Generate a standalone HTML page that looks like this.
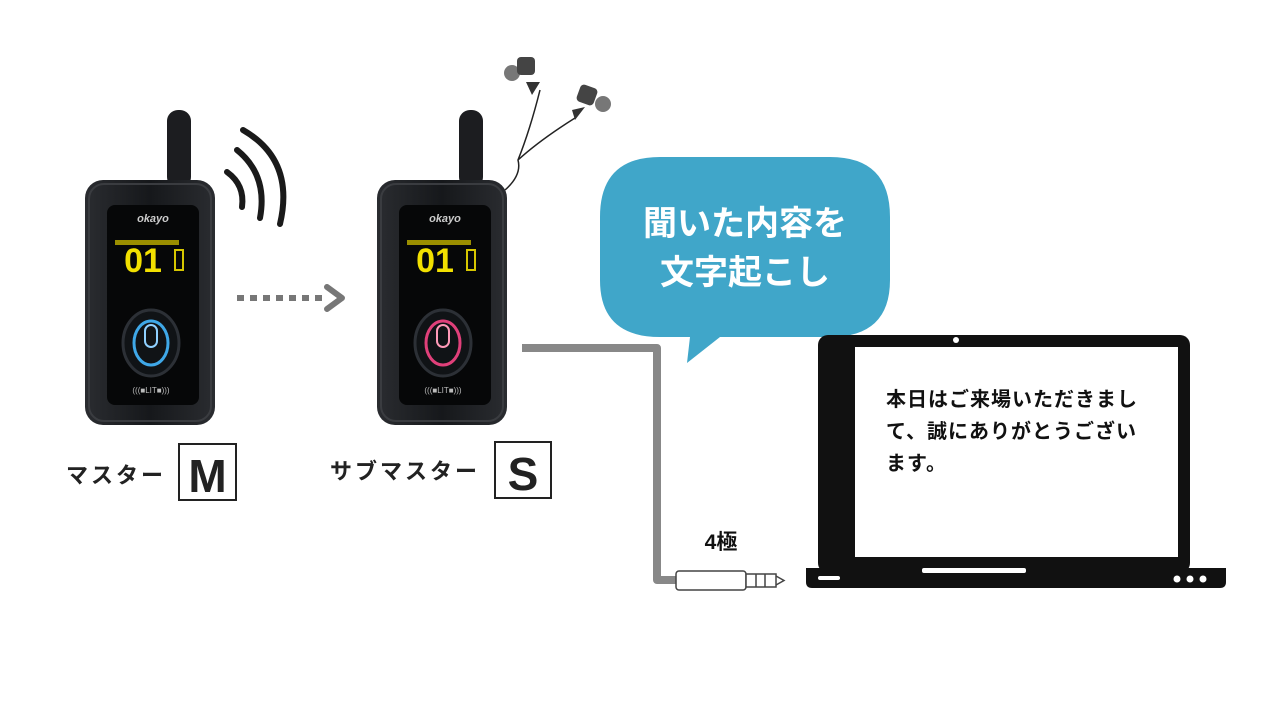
<!DOCTYPE html>
<html><head><meta charset="utf-8"><style>
html,body{margin:0;padding:0;background:#fff;width:1280px;height:720px;overflow:hidden}
svg{display:block}
</style></head><body>
<svg width="1280" height="720" viewBox="0 0 1280 720" xmlns="http://www.w3.org/2000/svg" font-family="'Liberation Sans','Noto Sans CJK JP',sans-serif">
<defs>
<linearGradient id="bg" x1="0" x2="1"><stop offset="0" stop-color="#2a2c30"/><stop offset="0.5" stop-color="#16181b"/><stop offset="1" stop-color="#2a2c30"/></linearGradient>
<g id="dev">
  <rect x="82" y="110" width="24" height="78" rx="11" fill="#1c1d20"/>
  <rect x="0" y="180" width="130" height="245" rx="18" fill="url(#bg)"/>
  <rect x="4" y="184" width="122" height="237" rx="15" fill="none" stroke="#3a3c40" stroke-width="2"/>
  <rect x="22" y="205" width="92" height="200" rx="8" fill="#060708"/>
  <text x="68" y="222" font-size="11" font-style="italic" fill="#ccc" text-anchor="middle" font-weight="bold">okayo</text>
  <text x="58" y="272" font-size="34" font-weight="bold" fill="#f2e000" text-anchor="middle">01</text>
  <rect x="90" y="250" width="8" height="20" fill="none" stroke="#d6c600" stroke-width="2"/>
  <rect x="30" y="240" width="64" height="5" fill="#9a8e00"/>
  <ellipse cx="66" cy="343" rx="28" ry="33" fill="#101316" stroke="#2c3036" stroke-width="3"/>
  <text x="66" y="393" font-size="8" fill="#bbb" text-anchor="middle">(((■LIT■)))</text>
</g>
</defs>
<use href="#dev" transform="translate(85,0)"/>
<ellipse cx="151" cy="343" rx="17" ry="22" fill="none" stroke="#3fa8e8" stroke-width="3"/>
<rect x="145" y="325" width="12" height="22" rx="6" fill="none" stroke="#8fd0ff" stroke-width="2"/>
<use href="#dev" transform="translate(377,0)"/>
<ellipse cx="443" cy="343" rx="17" ry="22" fill="none" stroke="#e0407a" stroke-width="3"/>
<rect x="437" y="325" width="12" height="22" rx="6" fill="none" stroke="#ff9ab8" stroke-width="2"/>
<g fill="none" stroke="#1a1a1a" stroke-width="6" stroke-linecap="round">
<path d="M227 172 Q245 185 242 207"/>
<path d="M237 150 Q268 175 260 218"/>
<path d="M243 130 Q295 160 280 224"/>
</g>
<g fill="#777"><rect x="237" y="295" width="7" height="6"/><rect x="250" y="295" width="7" height="6"/><rect x="263" y="295" width="7" height="6"/><rect x="276" y="295" width="7" height="6"/><rect x="289" y="295" width="7" height="6"/><rect x="302" y="295" width="7" height="6"/><rect x="315" y="295" width="7" height="6"/></g>
<path d="M327 287 L342 298 L327 309" fill="none" stroke="#777" stroke-width="6" stroke-linecap="round" stroke-linejoin="round"/>
<path d="M505 190 Q522 175 518 160 Q530 130 540 90 M518 160 Q540 140 575 118" fill="none" stroke="#222" stroke-width="1.5"/>
<circle cx="512" cy="73" r="8" fill="#777"/><rect x="517" y="57" width="18" height="18" rx="4" fill="#444"/><path d="M526 82 L540 82 L532 95Z" fill="#333"/>
<circle cx="603" cy="104" r="8" fill="#777"/><rect x="578" y="86" width="18" height="18" rx="4" fill="#444" transform="rotate(20 587 95)"/><path d="M572 110 L585 107 L575 120Z" fill="#333"/>
<path d="M660 157 H830 Q890 157 890 217 V280 Q890 337 830 337 H720 L687 363 L690 337 H660 Q600 337 600 280 V217 Q600 157 660 157Z" fill="#40a6c9"/>
<text x="745" y="235" font-size="34" font-weight="bold" fill="#fff" text-anchor="middle">聞いた内容を</text>
<text x="745" y="284" font-size="34" font-weight="bold" fill="#fff" text-anchor="middle">文字起こし</text>
<path d="M522 348 H657 V580 H680" fill="none" stroke="#888" stroke-width="8" stroke-linejoin="round"/>
<rect x="676" y="571" width="70" height="19" rx="3" fill="#fff" stroke="#444" stroke-width="1.5"/>
<rect x="746" y="574" width="30" height="13" fill="#fff" stroke="#444" stroke-width="1.5"/>
<path d="M756 574 V587 M765 574 V587 M776 576 L784 580.5 L776 585" fill="none" stroke="#444" stroke-width="1.5"/>
<text x="721" y="549" font-size="21" font-weight="bold" fill="#111" text-anchor="middle">4極</text>
<rect x="818" y="335" width="372" height="238" rx="10" fill="#111"/>
<rect x="855" y="347" width="323" height="210" fill="#fff"/>
<circle cx="956" cy="340" r="3" fill="#fff"/>
<path d="M806 568 H1226 V582 Q1226 588 1220 588 H812 Q806 588 806 582Z" fill="#111"/>
<rect x="922" y="568" width="104" height="5" rx="2" fill="#fff"/>
<rect x="818" y="576" width="22" height="4" rx="2" fill="#fff"/>
<circle cx="1177" cy="579" r="3.5" fill="#fff"/><circle cx="1190" cy="579" r="3.5" fill="#fff"/><circle cx="1203" cy="579" r="3.5" fill="#fff"/>
<g font-size="20" font-weight="bold" fill="#111" letter-spacing="1"><text x="886" y="406">本日はご来場いただきまし</text><text x="886" y="438">て、誠にありがとうござい</text><text x="886" y="470">ます。</text></g>
<text x="66" y="483" font-size="22" font-weight="bold" fill="#222" letter-spacing="3">マスター</text>
<rect x="179" y="444" width="57" height="56" fill="none" stroke="#222" stroke-width="2"/>
<text x="207.5" y="492" font-size="46" font-weight="bold" fill="#222" text-anchor="middle">M</text>
<text x="330" y="479" font-size="22" font-weight="bold" fill="#222" letter-spacing="3">サブマスター</text>
<rect x="495" y="442" width="56" height="56" fill="none" stroke="#222" stroke-width="2"/>
<text x="523" y="490" font-size="46" font-weight="bold" fill="#222" text-anchor="middle">S</text>
</svg>
</body></html>
